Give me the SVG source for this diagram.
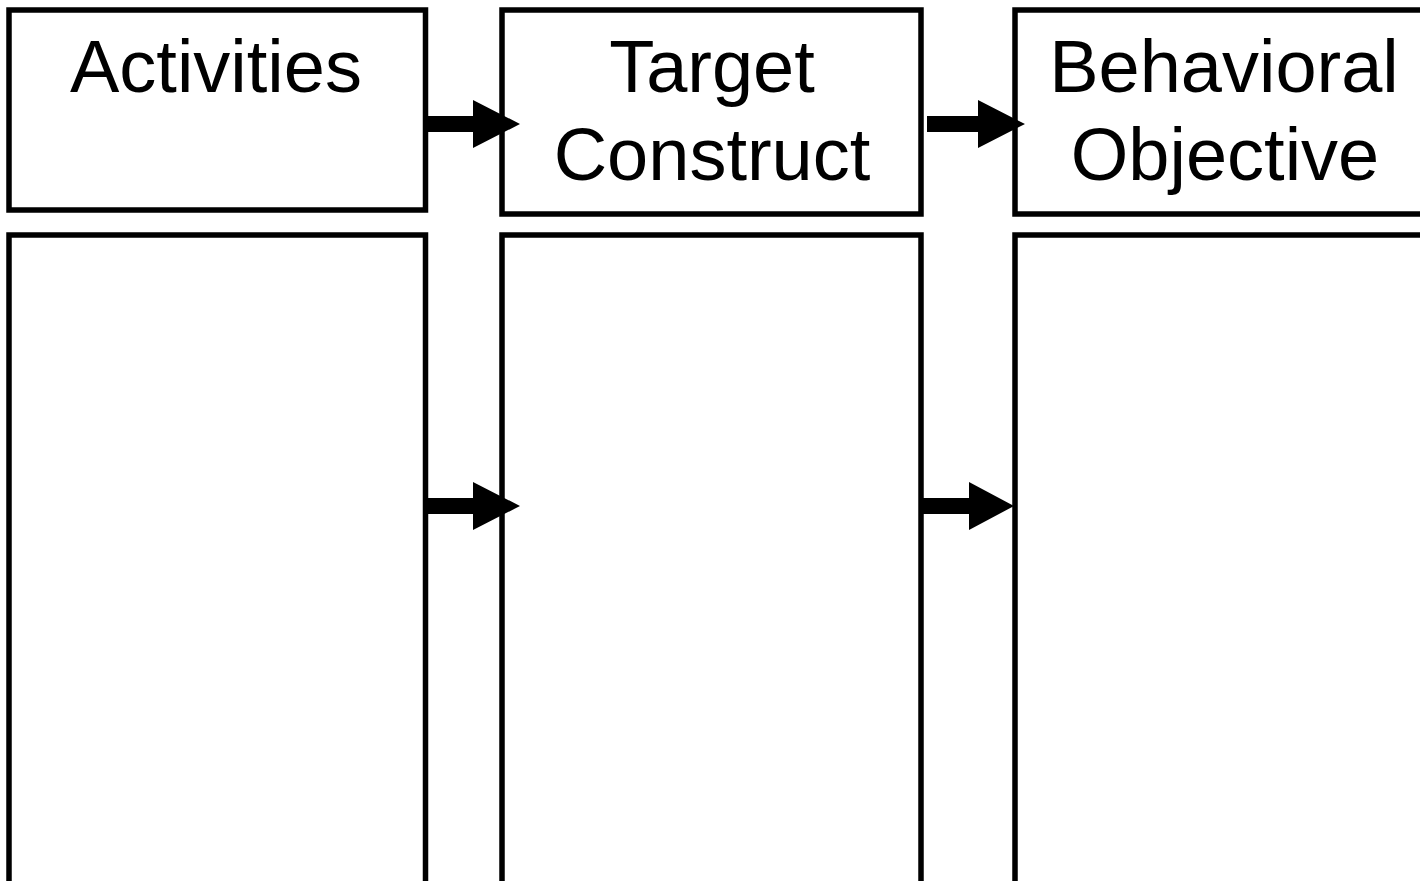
<svg xmlns="http://www.w3.org/2000/svg" width="1420" height="881" viewBox="0 0 1420 881">
<style>
.box{fill:#fff;stroke:#000;stroke-width:5.5}
.lbl{font-family:"Liberation Sans",Arial,sans-serif;font-size:74px;fill:#000;text-anchor:middle}
.arr{fill:#000}
</style>
<rect width="1420" height="881" fill="#fff"/>
<g id="activities">
<rect class="box" x="9" y="10" width="416.5" height="200"/>
<text class="lbl" x="216" y="92">Activities</text>
</g>
<g id="target-construct">
<rect class="box" x="502" y="10" width="419" height="204"/>
<text class="lbl" x="712" y="92">Target</text>
<text class="lbl" x="712" y="180">Construct</text>
</g>
<g id="behavioral-objective">
<rect class="box" x="1015" y="10" width="420" height="204"/>
<text class="lbl" x="1224" y="92">Behavioral</text>
<text class="lbl" x="1225" y="180">Objective</text>
</g>
<g id="activities-body">
<rect class="box" x="9" y="235" width="416.5" height="700"/>
</g>
<g id="target-construct-body">
<rect class="box" x="502" y="235" width="419" height="700"/>
</g>
<g id="behavioral-objective-body">
<rect class="box" x="1015" y="235" width="420" height="700"/>
</g>
<g id="connectors">
<polygon class="arr" points="427,116 473,116 473,100 520,124 473,148 473,132 427,132"/>
<polygon class="arr" points="927,116 978,116 978,100 1025,124 978,148 978,132 927,132"/>
<polygon class="arr" points="427,498 473,498 473,482 520,506 473,530 473,514 427,514"/>
<polygon class="arr" points="923,498 969,498 969,482 1014,506 969,530 969,514 923,514"/>
</g>
</svg>
